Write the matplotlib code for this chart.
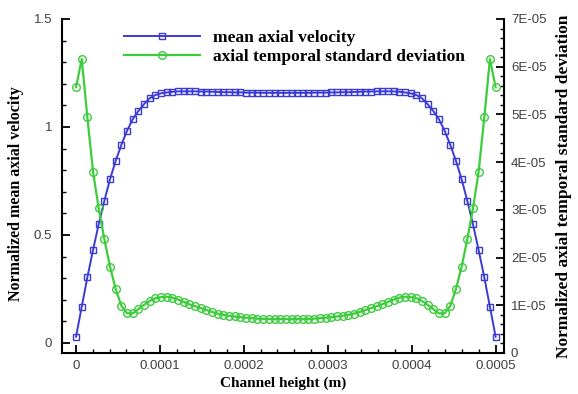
import numpy as np
import matplotlib
matplotlib.use("Agg")
import matplotlib.pyplot as plt
from matplotlib.ticker import MultipleLocator, FuncFormatter

plt.rcParams['font.family'] = ['Liberation Serif', 'DejaVu Serif']

# channel height positions (micrometres)
height_um = [
    0.0, 6.8, 13.5, 20.3, 27.0, 33.8, 40.5, 47.3, 54.1, 60.8,
    67.6, 74.3, 81.1, 87.8, 94.6, 101.4, 108.1, 114.9, 121.6, 128.4,
    135.1, 141.9, 148.6, 155.4, 162.2, 168.9, 175.7, 182.4, 189.2, 195.9,
    202.7, 209.5, 216.2, 223.0, 229.7, 236.5, 243.2, 250.0, 256.8, 263.5,
    270.3, 277.0, 283.8, 290.5, 297.3, 304.1, 310.8, 317.6, 324.3, 331.1,
    337.8, 344.6, 351.4, 358.1, 364.9, 371.6, 378.4, 385.1, 391.9, 398.6,
    405.4, 412.2, 418.9, 425.7, 432.4, 439.2, 445.9, 452.7, 459.5, 466.2,
    473.0, 479.7, 486.5, 493.2, 500.0]

# normalized mean axial velocity
mean_vel = [
    0.029, 0.168, 0.304, 0.431, 0.550, 0.659, 0.758, 0.844, 0.918, 0.983,
    1.036, 1.074, 1.106, 1.133, 1.148, 1.156, 1.160, 1.163, 1.165, 1.165,
    1.165, 1.165, 1.164, 1.164, 1.163, 1.162, 1.161, 1.161, 1.160, 1.160,
    1.159, 1.159, 1.159, 1.158, 1.158, 1.158, 1.158, 1.158, 1.158, 1.158,
    1.158, 1.158, 1.159, 1.159, 1.159, 1.160, 1.160, 1.161, 1.161, 1.162,
    1.163, 1.164, 1.164, 1.165, 1.165, 1.165, 1.165, 1.163, 1.160, 1.156,
    1.148, 1.133, 1.106, 1.074, 1.036, 0.983, 0.918, 0.844, 0.758, 0.659,
    0.550, 0.431, 0.304, 0.168, 0.029]

# axial temporal standard deviation (x 1e-5)
std_dev = [
    5.57, 6.16, 4.94, 3.79, 3.03, 2.38, 1.81, 1.335, 0.985, 0.83,
    0.83, 0.92, 1.01, 1.09, 1.15, 1.17, 1.18, 1.16, 1.12, 1.07,
    1.02, 0.98, 0.94, 0.90, 0.86, 0.825, 0.80, 0.78, 0.765, 0.75,
    0.74, 0.73, 0.72, 0.715, 0.71, 0.71, 0.71, 0.71, 0.71, 0.71,
    0.71, 0.715, 0.72, 0.73, 0.74, 0.75, 0.765, 0.78, 0.80, 0.825,
    0.86, 0.90, 0.94, 0.98, 1.02, 1.07, 1.12, 1.16, 1.18, 1.17,
    1.15, 1.09, 1.01, 0.92, 0.83, 0.83, 0.985, 1.335, 1.81, 2.38,
    3.03, 3.79, 4.94, 6.16, 5.57]

x = np.array(height_um) * 1e-6
vel = np.array(mean_vel)
std = np.array(std_dev) * 1e-5

blue = "#3b3bd4"
green = "#3ccc3c"
tick_col = "#404040"

fig = plt.figure(figsize=(5.78, 3.94), dpi=100)
ax = fig.add_axes([0.1073, 0.1041, 0.7647, 0.8477])
ax2 = ax.twinx()

l1, = ax.plot(x, vel, color=blue, lw=1.4, marker="s", ms=3.8, mfc="none",
              mec=blue, mew=1.0, label="mean axial velocity")
l2, = ax2.plot(x, std, color=green, lw=1.6, marker="o", ms=5.5, mfc="none",
               mec=green, mew=1.0, label="axial temporal standard deviation")

ax.set_xlim(-0.0000167, 0.000510)
ax.set_ylim(-0.0463, 1.5)
ax2.set_ylim(0, 7e-5)

ax.xaxis.set_major_locator(MultipleLocator(0.0001))
ax.xaxis.set_minor_locator(MultipleLocator(0.00002))
ax.yaxis.set_major_locator(MultipleLocator(0.5))
ax.yaxis.set_minor_locator(MultipleLocator(0.1))
ax2.yaxis.set_major_locator(MultipleLocator(1e-5))
ax2.yaxis.set_minor_locator(MultipleLocator(0.2e-5))

ax.xaxis.set_major_formatter(FuncFormatter(lambda v, p: "%g" % round(v, 6)))
ax.yaxis.set_major_formatter(FuncFormatter(lambda v, p: "%g" % round(v, 3)))
ax2.yaxis.set_major_formatter(
    FuncFormatter(lambda v, p: "0" if abs(v) < 1e-12 else "%.0E" % v))

for a in (ax, ax2):
    a.spines["top"].set_visible(False)
    for s in a.spines.values():
        s.set_linewidth(1.5)
ax.spines["right"].set_visible(False)
ax2.spines["left"].set_visible(False)
ax2.spines["bottom"].set_visible(False)

ax.tick_params(axis="both", which="major", direction="in", length=6, width=1.3,
               labelsize=9.5, labelcolor=tick_col, labelfontfamily="Liberation Sans",
               pad=5)
ax.tick_params(axis="both", which="minor", direction="in", length=3.2, width=1.0)
ax.tick_params(axis="x", pad=5)
ax.tick_params(axis="y", pad=7)
ax2.tick_params(axis="y", which="major", direction="in", length=6, width=1.3,
                labelsize=9.5, labelcolor=tick_col, labelfontfamily="Liberation Sans",
                pad=5)
ax2.tick_params(axis="y", which="minor", direction="in", length=3.2, width=1.0)

ax.set_xlabel("Channel height (m)", fontsize=11, fontweight="bold", labelpad=3)
ax.set_ylabel("Normalized mean axial velocity", fontsize=11.5, fontweight="bold")
ax.yaxis.set_label_coords(-0.085, 0.478)
ax2.set_ylabel("Normalized axial temporal standard deviation", fontsize=12.5,
               fontweight="bold", labelpad=7)

ax2.legend(handles=[l1, l2], loc="upper left", bbox_to_anchor=(0.14, 0.968),
           frameon=False, prop={"weight": "bold", "size": 12.5},
           handlelength=4.4, handletextpad=0.75, labelspacing=0.15,
           borderpad=0, borderaxespad=0, numpoints=1)

fig.savefig("out.png", dpi=100)
